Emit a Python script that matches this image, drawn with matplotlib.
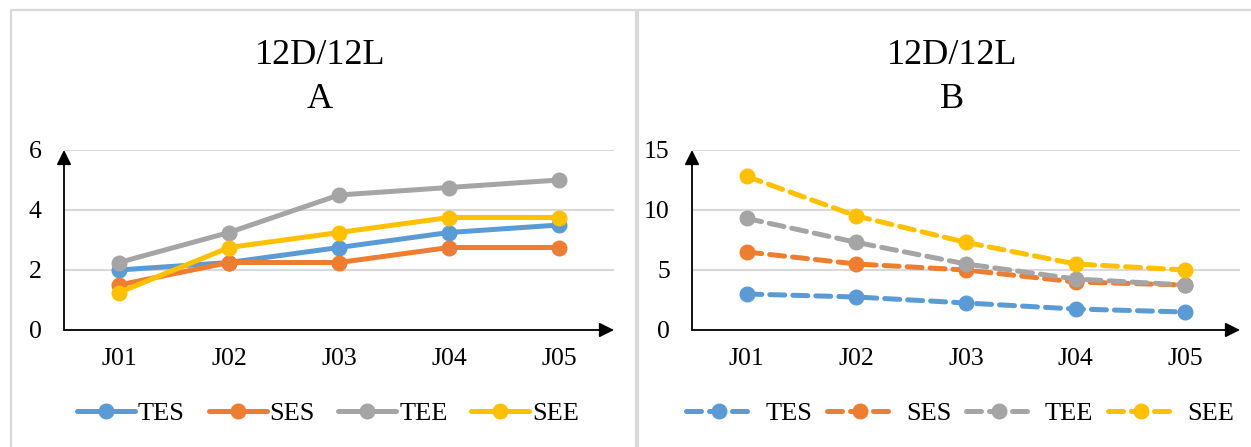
import numpy as np
import matplotlib.pyplot as plt
from matplotlib.patches import Rectangle

plt.rcParams['font.family'] = ['Liberation Serif', 'DejaVu Serif']

days = ["J01", "J02", "J03", "J04", "J05"]
series = ["TES", "SES", "TEE", "SEE"]
colors = ["#5B9BD5", "#ED7D31", "#A5A5A5", "#FFC000"]

# panel A (solid lines)
a_tes = [2.0, 2.25, 2.75, 3.25, 3.5]
a_ses = [1.5, 2.25, 2.25, 2.75, 2.75]
a_tee = [2.25, 3.25, 4.5, 4.75, 5.0]
a_see = [1.25, 2.75, 3.25, 3.75, 3.75]

# panel B (dashed lines)
b_tes = [3.0, 2.75, 2.25, 1.75, 1.5]
b_ses = [6.5, 5.5, 5.0, 4.0, 3.75]
b_tee = [9.3, 7.3, 5.5, 4.25, 3.75]
b_see = [12.8, 9.5, 7.3, 5.5, 5.0]

W, H = 1251, 447
fig = plt.figure(figsize=(W / 100, H / 100), dpi=100)

# panel frames
for x0, x1 in [(11, 636), (638, 1260)]:
    fig.patches.append(Rectangle((x0 / W, -0.1), (x1 - x0) / W, (H - 10) / H + 0.1,
                                 transform=fig.transFigure, fill=False,
                                 edgecolor="#D9D9D9", lw=1.6))


def draw_panel(left, width, data, ymax, ystep, letter, dashed, title_x, legend_x):
    ax = fig.add_axes([left / W, (H - 330) / H, width / W, 180 / H])
    x = np.arange(len(days))
    for vals, name, c in zip(data, series, colors):
        ls = (0, (3, 1.6)) if dashed else "-"
        ax.plot(x, vals, color=c, lw=3.6, ls=ls, marker="o", ms=10.5,
                label=name, solid_capstyle="round", dash_capstyle="round")
    ax.set_xlim(-0.5, len(days) - 0.5)
    ax.set_ylim(0, ymax)
    ax.set_yticks(np.arange(0, ymax + 0.1, ystep))
    ax.set_xticks(x)
    ax.set_xticklabels(days)
    ax.tick_params(length=0, labelsize=18.5)
    ax.tick_params(axis="x", pad=13)
    ax.tick_params(axis="y", pad=16)
    ax.grid(axis="y", color="#D9D9D9", lw=1.5)
    ax.set_axisbelow(True)
    for s in ax.spines.values():
        s.set_visible(False)
    # arrowed axes
    ax.annotate("", xy=(1.0, 0), xytext=(0, 0), xycoords="axes fraction",
                arrowprops=dict(arrowstyle="-|>", color="black", lw=1.3,
                                mutation_scale=22, shrinkA=0, shrinkB=0))
    ax.annotate("", xy=(0, 1.0), xytext=(0, 0), xycoords="axes fraction",
                arrowprops=dict(arrowstyle="-|>", color="black", lw=1.3,
                                mutation_scale=22, shrinkA=0, shrinkB=0))
    fig.text(title_x / W, (H - 55) / H, "12D/12L", ha="center", va="center", fontsize=26)
    fig.text(title_x / W, (H - 100) / H, letter, ha="center", va="center", fontsize=26)
    fig.legend(*ax.get_legend_handles_labels(), loc="center",
               bbox_to_anchor=(legend_x / W, (H - 413) / H), ncol=4, frameon=False,
               fontsize=19, handlelength=2.2 if not dashed else 2.5,
               handletextpad=0.1 if not dashed else 0.5,
               columnspacing=0.9 if not dashed else 0.55, borderaxespad=0)
    return ax


draw_panel(64, 550, [a_tes, a_ses, a_tee, a_see], 6, 2, "A", False, 320, 328)
draw_panel(692, 548, [b_tes, b_ses, b_tee, b_see], 15, 5, "B", True, 952, 960)

fig.savefig("out.png", dpi=100)
